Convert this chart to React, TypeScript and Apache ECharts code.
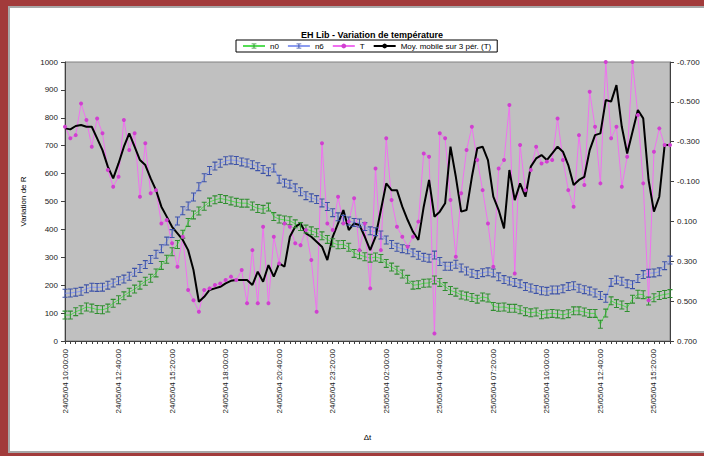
import React, { useEffect, useRef } from "react";
import * as echarts from "echarts";

const tickLabels = [
  "24/05/04 10:00:00", "24/05/04 12:40:00", "24/05/04 15:20:00", "24/05/04 18:00:00",
  "24/05/04 20:40:00", "24/05/04 23:20:00", "25/05/04 02:00:00", "25/05/04 04:40:00",
  "25/05/04 07:20:00", "25/05/04 10:00:00", "25/05/04 12:40:00", "25/05/04 15:20:00",
];

const n0 = [93,93,105,112,122,118,113,112,118,135, 148,162,175,186,200,214,225,244,271,293, 320,346,383,425,452,466,483,498,506,511, 507,502,497,494,494,484,475,472,480,446, 437,434,431,420,410,401,395,388,377,364, 352,345,346,336,314,309,302,297,301,296, 278,265,254,240,221,200,202,207,208,219, 210,195,181,175,165,161,156,150,158,154, 124,121,122,117,117,112,105,101,104,94, 97,99,97,94,98,108,108,104,99,99, 60,100,144,134,129,120,150,168,166,143, 155,163,167,170];

const n6 = [171,172,175,178,187,193,192,193,200,208, 216,222,232,246,260,274,292,311,331,358, 385,430,467,484,516,553,585,611,627,637, 646,649,647,642,638,632,625,615,607,620, 580,566,562,549,535,521,513,507,495,482, 460,445,436,430,425,423,410,395,392,380, 362,346,336,331,327,316,307,300,297,308, 285,268,268,275,262,251,243,238,245,248, 244,230,220,215,210,205,195,190,185,180, 178,183,183,187,195,198,189,184,179,172, 163,153,210,219,214,205,202,224,238,243, 244,248,270,290];

const T = [-0.375,-0.317,-0.333,-0.492,-0.409,-0.275,-0.417,-0.342,-0.158,-0.074, -0.124,-0.409,-0.258,-0.342,-0.024,-0.292,-0.041,-0.057,0.110,0.093, 0.210,0.327,0.177,0.444,0.495,0.553,0.444,0.436,0.419,0.411, 0.394,0.377,0.394,0.344,0.511,0.244,0.511,0.127,0.511,0.177, 0.311,0.110,0.127,0.210,0.219,0.143,0.294,0.553,-0.292,0.110, 0.143,-0.024,
  0.110,0.101,-0.016,0.244,0.110,0.436,-0.166,0.244,-0.317,-0.007,
  0.127,0.177,0.227,0.177,0.101,-0.241,-0.225,0.662,-0.342,-0.317,
  -0.007,0.277,-0.041,-0.258,-0.375,-0.208,-0.057,0.110,0.327,-0.166,
  -0.208,-0.484,0.361,-0.283,-0.057,-0.158,-0.275,-0.191,-0.200,-0.208,
  -0.417,-0.208,-0.057,0.026,-0.333,-0.083,-0.551,-0.375,-0.091,-0.700,
  -0.317,-0.375,-0.074,-0.225,-0.700,-0.434,-0.091,0.495,-0.250,-0.367,
  -0.283,-0.283];

const movingAvg = [-0.367,-0.362,-0.379,-0.384,-0.375,-0.375,-0.317,-0.258,-0.175,-0.116, -0.191,-0.275,-0.342,-0.275,-0.208,-0.183,-0.116,-0.057,0.026,0.076, 0.127,0.160,0.193,0.244,0.344,0.503,0.478,0.444,0.436,0.428, 0.411,0.398,0.394,0.394,0.394,0.419,0.352,0.403,0.319,0.377, 0.311,0.327,0.177,0.127,0.110,0.160,0.177,0.202,0.227,0.294, 0.177,0.110,
  0.043,0.143,0.110,0.118,0.177,0.244,0.177,0.043,-0.091,-0.057,
  -0.057,0.026,0.093,0.152,0.193,0.026,-0.108,0.076,0.051,0.009,
  -0.275,-0.124,0.051,0.043,-0.124,-0.267,-0.275,-0.208,-0.024,0.043,
  0.135,-0.158,-0.007,-0.091,-0.024,-0.175,-0.216,-0.233,-0.208,-0.241,
  -0.275,-0.250,-0.183,-0.083,-0.108,-0.124,-0.258,-0.333,-0.342,-0.509,
  -0.501,-0.584,-0.375,-0.241,-0.350,-0.459,-0.417,-0.108,0.051,-0.024,
  -0.283,-0.283];

const categories = n0.map((_, i) => (i % 10 === 0 ? tickLabels[i / 10] : `p${i}`));

const FONT = "Liberation Sans";
const IBEAM = "path://M0,0H6V1.2H3.6V8.8H6V10H0V8.8H2.4V1.2H0Z";

export default function App() {
  const ref = useRef<HTMLDivElement>(null);
  useEffect(() => {
    if (!ref.current) return;
    const chart = echarts.init(ref.current, undefined, { renderer: "svg" });
    chart.setOption({
      animation: false,
      backgroundColor: "transparent",
      textStyle: { fontFamily: FONT },
      title: {
        text: "EH Lib - Variation de température",
        left: 367,
        top: 25,
        textAlign: "center",
        textStyle: { fontFamily: FONT, fontSize: 9, fontWeight: "bold", color: "#000" },
      },
      legend: {
        top: 40,
        left: 236,
        borderColor: "#000",
        borderWidth: 1,
        padding: [2, 6],
        itemGap: 8,
        itemWidth: 22,
        itemHeight: 6,
        textStyle: { fontFamily: FONT, fontSize: 8, color: "#000" },
        data: ["n0", "n6", "T", "Moy. mobile sur 3 pér. (T)"],
      },
      grid: {
        left: 65,
        right: 34,
        top: 62,
        bottom: 115,
        show: true,
        backgroundColor: "#c0c0c0",
        borderColor: "#808080",
        borderWidth: 1,
      },
      xAxis: {
        type: "category",
        data: categories,
        boundaryGap: false,
        name: "Δt",
        nameLocation: "middle",
        nameGap: 92,
        nameTextStyle: { fontFamily: FONT, fontSize: 8, color: "#000" },
        axisLine: { lineStyle: { color: "#404040" } },
        axisTick: { interval: 0, length: 3, lineStyle: { color: "#404040" } },
        axisLabel: { interval: 9, rotate: 90, fontSize: 8, margin: 8, color: "#222", fontFamily: FONT },
        splitLine: { show: false },
      },
      yAxis: [
        {
          type: "value",
          min: 0,
          max: 1000,
          interval: 100,
          name: "Variation de R",
          nameLocation: "middle",
          nameGap: 38,
          nameTextStyle: { fontFamily: FONT, fontSize: 8, color: "#000" },
          axisLine: { show: true, lineStyle: { color: "#404040" } },
          axisTick: { show: true, length: 4, lineStyle: { color: "#404040" } },
          axisLabel: { fontSize: 8, margin: 7, color: "#222", fontFamily: FONT, formatter: (v: number) => String(v) },
          splitLine: { show: false },
        },
        {
          type: "value",
          inverse: true,
          min: -0.7,
          max: 0.7,
          interval: 0.2,
          position: "right",
          axisLine: { show: true, lineStyle: { color: "#404040" } },
          axisTick: { show: true, length: 4, lineStyle: { color: "#404040" } },
          axisLabel: {
            fontSize: 8,
            margin: 7,
            color: "#222",
            fontFamily: FONT,
            formatter: (v: number) => v.toFixed(3),
          },
          splitLine: { show: false },
        },
      ],
      series: [
        {
          name: "n0",
          type: "line",
          data: n0,
          yAxisIndex: 0,
          symbol: IBEAM,
          symbolSize: [5, 9],
          showAllSymbol: true,
          lineStyle: { color: "#55dd55", width: 1 },
          itemStyle: { color: "#2f8f2f" },
        },
        {
          name: "n6",
          type: "line",
          data: n6,
          yAxisIndex: 0,
          symbol: IBEAM,
          symbolSize: [5, 9],
          showAllSymbol: true,
          lineStyle: { color: "#8c9cf0", width: 1 },
          itemStyle: { color: "#3c52a8" },
        },
        {
          name: "T",
          type: "line",
          data: T,
          yAxisIndex: 1,
          symbol: "circle",
          symbolSize: 4,
          showAllSymbol: true,
          lineStyle: { color: "#f070f0", width: 1 },
          itemStyle: { color: "#d040d0" },
        },
        {
          name: "Moy. mobile sur 3 pér. (T)",
          type: "line",
          data: movingAvg,
          yAxisIndex: 1,
          symbol: "none",
          lineStyle: { color: "#000000", width: 2 },
          itemStyle: { color: "#000000" },
        },
      ],
    });
    return () => chart.dispose();
  }, []);

  return (
    <div style={{ position: "absolute", left: 0, top: 0, width: 704, height: 456, background: "#a23b3b", overflow: "hidden" }}>
      <div
        style={{
          position: "absolute",
          left: 8,
          top: 6,
          width: 704,
          height: 447,
          background: "#ffffff",
          border: "2px solid #a8a8a8",
          boxSizing: "border-box",
        }}
      />
      <div ref={ref} style={{ position: "absolute", left: 0, top: 0, width: 704, height: 456 }} />
    </div>
  );
}
